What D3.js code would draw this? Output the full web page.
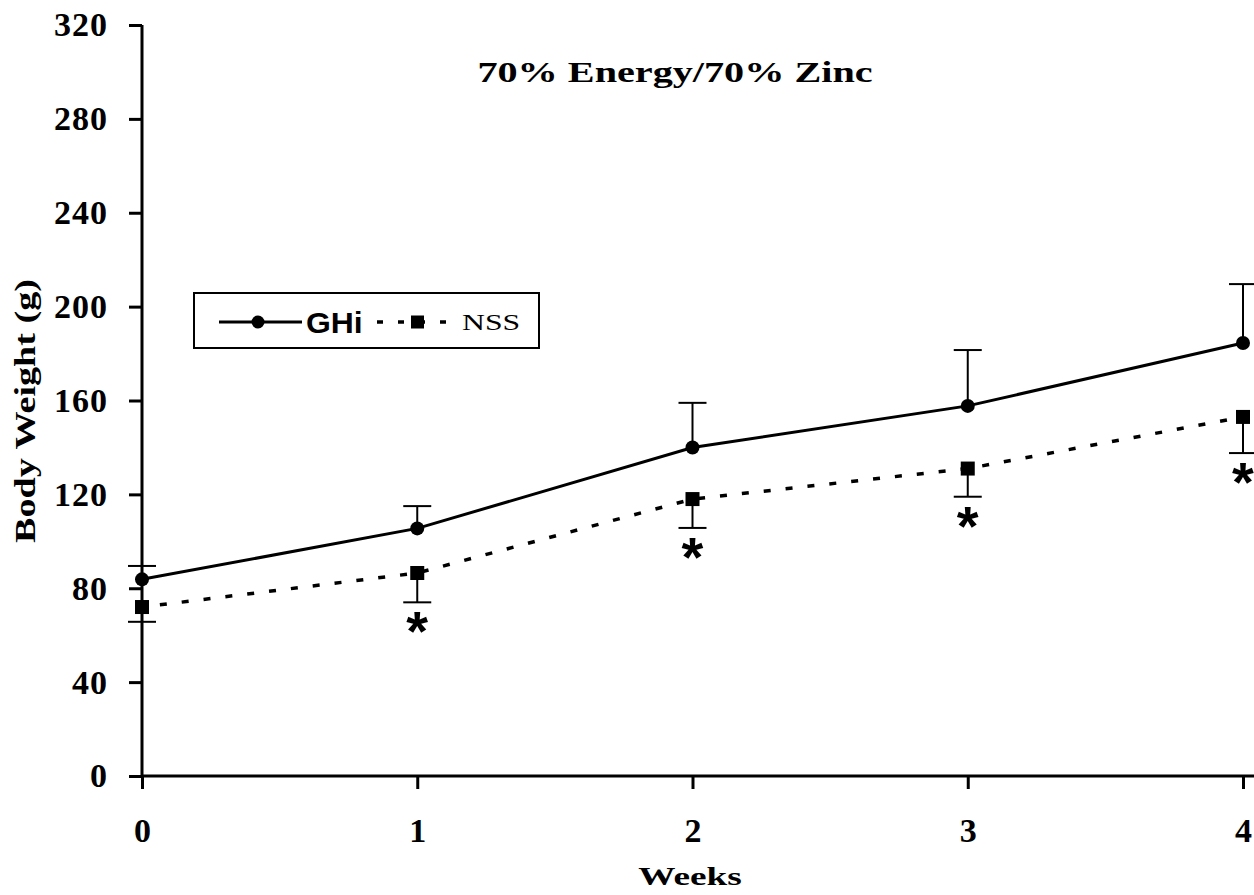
<!DOCTYPE html>
<html><head><meta charset="utf-8">
<script src="https://cdn.jsdelivr.net/npm/d3@7"></script>
<style>html,body{margin:0;padding:0;background:#fff;overflow:hidden}</style>
</head><body>
<svg id="c" width="1254" height="895"></svg>
<script>
const weeks = [0, 1, 2, 3, 4];
const ghiMean = [83.8, 105.5, 140, 157.7, 184.5];
const ghiErrUp = [89.5, 115, 159, 181.5, 209.6];
const nssMean = [72, 86.5, 118, 131, 153];
const nssErrDown = [65.7, 74, 105.7, 119, 137.6];
const significant = [false, true, true, true, true];
const yTicks = [0, 40, 80, 120, 160, 200, 240, 280, 320];
const title = "70% Energy/70% Zinc";
const xLabel = "Weeks";
const yLabel = "Body Weight (g)";
const seriesNames = ["GHi", "NSS"];

const svg = d3.select("#c");
const x = d3.scaleLinear().domain([0, 4]).range([142, 1243]);
const y = d3.scaleLinear().domain([0, 320]).range([776, 25]);
const serif = "'Liberation Serif','Times New Roman',serif";
const sans = "'Liberation Sans',Arial,sans-serif";

// Y axis
const yAx = svg.append("g").attr("transform", `translate(${x(0)},0)`)
  .call(d3.axisLeft(y).tickValues(yTicks).tickSize(13).tickPadding(21));
yAx.select(".domain").attr("stroke-width", 3).attr("d", `M0,${y(320)}V${y(0)}`);
yAx.selectAll(".tick line").attr("stroke-width", 3);
yAx.selectAll(".tick text").attr("font-family", serif).attr("font-weight", "bold")
  .attr("font-size", 34).attr("letter-spacing", 1).attr("fill", "#000");

// X axis
const xAx = svg.append("g").attr("transform", `translate(0,${y(0)})`)
  .call(d3.axisBottom(x).tickValues(weeks).tickFormat(d3.format("d")).tickSize(13).tickPadding(29));
xAx.select(".domain").attr("stroke-width", 3).attr("d", `M${x(0)},0H1254`);
xAx.selectAll(".tick line").attr("stroke-width", 3);
xAx.selectAll(".tick text").attr("font-family", serif).attr("font-weight", "bold")
  .attr("font-size", 34).attr("fill", "#000");

// Labels (horizontally stretched like the reference typeface)
svg.append("g").attr("transform", "translate(675,82) scale(1.34,1)")
  .append("text").attr("text-anchor", "middle")
  .attr("font-family", serif).attr("font-weight", "bold").attr("font-size", 30).text(title);
svg.append("g").attr("transform", "translate(690,885) scale(1.43,1)")
  .append("text").attr("text-anchor", "middle")
  .attr("font-family", serif).attr("font-weight", "bold").attr("font-size", 26).text(xLabel);
svg.append("g").attr("transform", "translate(35,411) rotate(-90) scale(1.27,1)")
  .append("text").attr("text-anchor", "middle")
  .attr("font-family", serif).attr("font-weight", "bold").attr("font-size", 30).text(yLabel);

// Error bars
const cap = 14;
weeks.forEach((w, i) => {
  svg.append("line").attr("x1", x(w)).attr("x2", x(w)).attr("y1", y(ghiMean[i])).attr("y2", y(ghiErrUp[i]))
    .attr("stroke", "#000").attr("stroke-width", 2);
  svg.append("line").attr("x1", x(w) - cap).attr("x2", x(w) + cap).attr("y1", y(ghiErrUp[i])).attr("y2", y(ghiErrUp[i]))
    .attr("stroke", "#000").attr("stroke-width", 2);
  svg.append("line").attr("x1", x(w)).attr("x2", x(w)).attr("y1", y(nssMean[i])).attr("y2", y(nssErrDown[i]))
    .attr("stroke", "#000").attr("stroke-width", 2);
  svg.append("line").attr("x1", x(w) - cap).attr("x2", x(w) + cap).attr("y1", y(nssErrDown[i])).attr("y2", y(nssErrDown[i]))
    .attr("stroke", "#000").attr("stroke-width", 2);
  if (significant[i]) {
    svg.append("text").attr("x", x(w)).attr("y", y(nssErrDown[i]) + 48).attr("text-anchor", "middle")
      .attr("font-family", sans).attr("font-weight", "bold").attr("font-size", 56).text("*");
  }
});

// Lines
const line = d3.line().x((d, i) => x(weeks[i])).y(d => y(d));
svg.append("path").attr("d", line(ghiMean)).attr("fill", "none").attr("stroke", "#000").attr("stroke-width", 3);
svg.append("path").attr("d", line(nssMean)).attr("fill", "none").attr("stroke", "#000").attr("stroke-width", 3.5)
  .attr("stroke-dasharray", "7,15").attr("stroke-dashoffset", -18);

// Markers
svg.selectAll(".ghi").data(ghiMean).enter().append("circle")
  .attr("cx", (d, i) => x(weeks[i])).attr("cy", d => y(d)).attr("r", 7).attr("fill", "#000");
svg.selectAll(".nss").data(nssMean).enter().append("rect")
  .attr("x", (d, i) => x(weeks[i]) - 7).attr("y", d => y(d) - 7).attr("width", 14).attr("height", 14).attr("fill", "#000");

// Legend
const lg = svg.append("g");
lg.append("rect").attr("x", 194).attr("y", 293).attr("width", 345).attr("height", 55)
  .attr("fill", "#fff").attr("stroke", "#000").attr("stroke-width", 2);
const ly = 322;
lg.append("line").attr("x1", 219).attr("x2", 302).attr("y1", ly).attr("y2", ly).attr("stroke", "#000").attr("stroke-width", 3);
lg.append("circle").attr("cx", 258).attr("cy", ly).attr("r", 6.5).attr("fill", "#000");
lg.append("g").attr("transform", `translate(306,${ly + 11}) scale(1.1,1)`)
  .append("text").attr("font-family", sans).attr("font-weight", "bold")
  .attr("font-size", 29).text(seriesNames[0]);
lg.append("line").attr("x1", 377).attr("x2", 458).attr("y1", ly).attr("y2", ly).attr("stroke", "#000").attr("stroke-width", 3.5)
  .attr("stroke-dasharray", "6,15");
lg.append("rect").attr("x", 411).attr("y", ly - 6.5).attr("width", 13).attr("height", 13).attr("fill", "#000");
lg.append("g").attr("transform", `translate(462,${ly + 8}) scale(1.38,1)`)
  .append("text").attr("font-family", serif).attr("font-size", 23).text(seriesNames[1]);
</script>
</body></html>
